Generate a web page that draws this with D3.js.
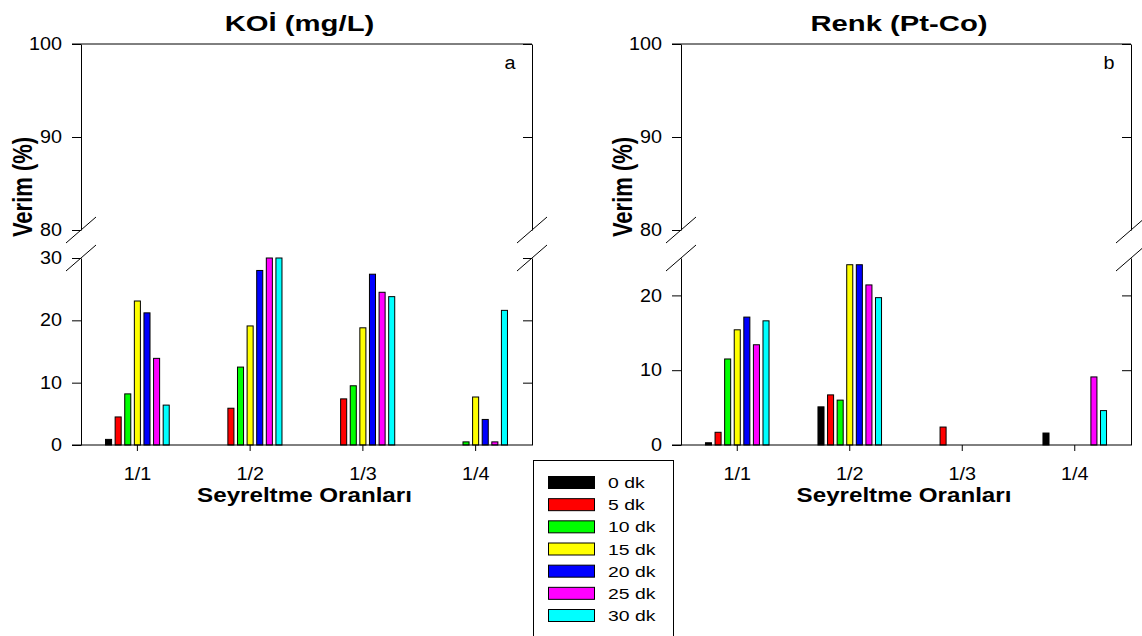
<!DOCTYPE html>
<html>
<head>
<meta charset="utf-8">
<script src="https://cdn.jsdelivr.net/npm/d3@7"></script>
<style>
  body { margin: 0; background: #fff; }
  svg { display: block; }
  text { font-family: "Liberation Sans", Arial, sans-serif; fill: #000; }
</style>
</head>
<body>
<svg id="chart" width="1142" height="636"></svg>
<script>
// ---- data ----
const categories = ["1/1", "1/2", "1/3", "1/4"];
const seriesNames = ["0 dk", "5 dk", "10 dk", "15 dk", "20 dk", "25 dk", "30 dk"];
const seriesColors = ["#000000", "#ff0000", "#00ff00", "#ffff00", "#0000ff", "#ff00ff", "#00ffff"];
// KOİ (mg/L) – rows: series, columns: categories
const koiValues = [
  [0.9, 0, 0, 0],
  [4.5, 5.9, 7.4, 0],
  [8.2, 12.5, 9.5, 0.5],
  [23.1, 19.1, 18.8, 7.7],
  [21.2, 28.0, 27.4, 4.1],
  [13.9, 30.0, 24.5, 0.5],
  [6.4, 30.0, 23.8, 21.6]
];
// Renk (Pt-Co)
const renkValues = [
  [0.3, 5.1, 0, 1.6],
  [1.7, 6.7, 2.4, 0],
  [11.5, 6.0, 0, 0],
  [15.4, 24.1, 0, 0],
  [17.1, 24.1, 0, 0],
  [13.4, 21.4, 0, 9.1],
  [16.6, 19.7, 0, 4.6]
];
const upperTicks = [80, 90, 100];
const koiLowerTicks = [0, 10, 20, 30];
const renkLowerTicks = [0, 10, 20];

const svg = d3.select("#chart");

// widen glyphs horizontally (reference text is horizontally stretched)
function stretch(sel, sx) {
  sel.each(function () {
    const l = this.getComputedTextLength();
    this.setAttribute("textLength", l * sx);
    this.setAttribute("lengthAdjust", "spacingAndGlyphs");
  });
}

function panel(opts) {
  const g = svg.append("g");
  const { x0, x1, values, lowerMax, lowerTicks, title, letter } = opts;
  const yTop = 44, yBreakUp = 230, yBreakLow = 258, yBottom = 445;

  const x = d3.scaleBand().domain(categories).range([x0, x1]).padding(0);
  const frac = 0.565;
  const inner = d3.scaleBand().domain(seriesNames).range([0, x.bandwidth() * frac]).paddingInner(0.37);
  const innerOff = x.bandwidth() * (1 - frac) / 2;
  const yU = d3.scaleLinear().domain([80, 100]).range([yBreakUp, yTop]);
  const yL = d3.scaleLinear().domain([0, lowerMax]).range([yBottom, yBreakLow]);

  // bars
  seriesNames.forEach((s, si) => {
    g.append("g").selectAll("rect")
      .data(categories.map((c, ci) => ({ c, v: values[si][ci] })).filter(d => d.v > 0))
      .join("rect")
      .attr("x", d => x(d.c) + innerOff + inner(s))
      .attr("width", inner.bandwidth())
      .attr("y", d => yL(Math.min(d.v, lowerMax)))
      .attr("height", d => yL(0) - yL(Math.min(d.v, lowerMax)))
      .attr("fill", seriesColors[si])
      .attr("stroke", "#000")
      .attr("stroke-width", 1);
  });

  const axisStyle = sel => {
    sel.selectAll("path, line").attr("stroke", "#000").attr("stroke-width", 1);
    sel.selectAll("text").style("font-size", "17.5px").style("font-family", '"Liberation Sans", Arial, sans-serif')
      .call(stretch, 1.13);
  };

  // left axes
  g.append("g").attr("transform", `translate(${x0},0)`)
    .call(d3.axisLeft(yU).tickValues(upperTicks).tickSize(9).tickSizeOuter(0).tickPadding(10))
    .call(axisStyle);
  g.append("g").attr("transform", `translate(${x0},0)`)
    .call(d3.axisLeft(yL).tickValues(lowerTicks).tickSize(9).tickSizeOuter(0).tickPadding(10))
    .call(axisStyle);
  // right axes (inward ticks, no labels)
  g.append("g").attr("transform", `translate(${x1},0)`)
    .call(d3.axisLeft(yU).tickValues(upperTicks.filter(t => t !== 80)).tickSize(9).tickSizeOuter(0).tickFormat(""))
    .call(axisStyle);
  g.append("g").attr("transform", `translate(${x1},0)`)
    .call(d3.axisLeft(yL).tickValues(lowerTicks.filter(t => t !== 0)).tickSize(9).tickSizeOuter(0).tickFormat(""))
    .call(axisStyle);

  // top border
  g.append("line").attr("x1", x0 - 9).attr("x2", x1).attr("y1", yTop).attr("y2", yTop)
    .attr("stroke", "#000").attr("stroke-width", 1);

  // x axis
  g.append("g").attr("transform", `translate(0,${yBottom})`)
    .call(d3.axisBottom(x).tickSize(6).tickSizeOuter(0).tickPadding(17))
    .call(axisStyle)
    .call(a => a.select(".domain").remove());
  g.append("line").attr("x1", x0 - 9).attr("x2", x1).attr("y1", yBottom).attr("y2", yBottom)
    .attr("stroke", "#000");

  // break marks
  [x0, x1].forEach(ax => {
    [yBreakUp, yBreakLow].forEach(by => {
      g.append("line").attr("x1", ax - 15).attr("y1", by + 13).attr("x2", ax + 15).attr("y2", by - 13)
        .attr("stroke", "#000").attr("stroke-width", 1);
    });
  });

  // titles
  const cx = (x0 + x1) / 2;
  g.append("text").attr("x", cx - 7).attr("y", 31).attr("text-anchor", "middle")
    .style("font-size", "22px").style("font-weight", "bold").text(title).call(stretch, 1.33);
  g.append("text").attr("x", cx - 2).attr("y", 502).attr("text-anchor", "middle")
    .style("font-size", "21px").style("font-weight", "bold").text("Seyreltme Oranları").call(stretch, 1.15);
  g.append("text").attr("transform", `translate(${x0 - 49.5},${187}) rotate(-90) scale(1,1.25)`)
    .attr("text-anchor", "middle")
    .style("font-size", "22px").style("font-weight", "bold").text("Verim (%)");
  g.append("text").attr("x", x1 - 22).attr("y", 69).attr("text-anchor", "middle")
    .style("font-size", "18px").text(letter).call(stretch, 1.1);
}

panel({ x0: 81, x1: 532, values: koiValues, lowerMax: 30, lowerTicks: koiLowerTicks, title: "KOİ (mg/L)", letter: "a" });
panel({ x0: 681, x1: 1131, values: renkValues, lowerMax: 25, lowerTicks: renkLowerTicks, title: "Renk (Pt-Co)", letter: "b" });

// legend
const legend = svg.append("g");
legend.append("rect").attr("x", 533.5).attr("y", 460.5).attr("width", 140).attr("height", 190)
  .attr("fill", "#fff").attr("stroke", "#000");
const ly = d3.scalePoint().domain(seriesNames).range([482.5, 615.5]);
seriesNames.forEach((s, i) => {
  legend.append("rect").attr("x", 548.5).attr("y", ly(s) - 6).attr("width", 46).attr("height", 12)
    .attr("fill", seriesColors[i]).attr("stroke", "#000");
  legend.append("text").attr("x", 608).attr("y", ly(s) + 5.5).style("font-size", "15.5px").text(s)
    .call(stretch, 1.25);
});
</script>
</body>
</html>
